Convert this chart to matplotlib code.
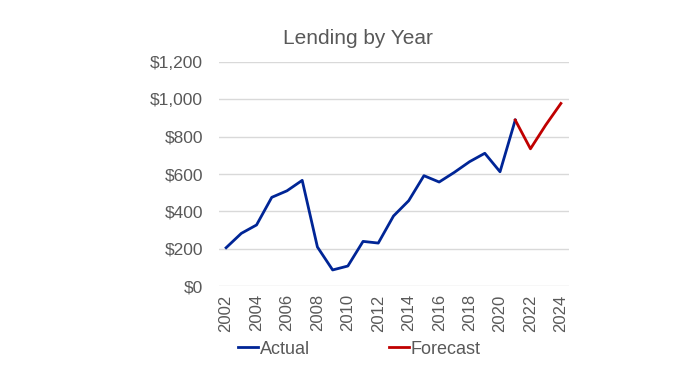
import matplotlib
matplotlib.use('Agg')
import matplotlib.pyplot as plt
from matplotlib.ticker import FuncFormatter

years_actual = list(range(2002, 2022))
lending_actual = [205, 282, 327, 475, 510, 566, 209, 86, 107, 239, 230, 375,
                  457, 591, 557, 609, 666, 711, 612, 889]
years_forecast = [2021, 2022, 2023, 2024]
lending_forecast = [889, 735, 862, 978]

plt.rcParams['font.family'] = ['Liberation Sans', 'DejaVu Sans']
text_c = '#595959'

fig = plt.figure(figsize=(7, 3.79), dpi=100)
ax = fig.add_axes([218.5 / 700, 1 - 286 / 379, 350 / 700, 224 / 379])

ax.plot(years_actual, lending_actual, color='#002596', lw=2.0, label='Actual')
ax.plot(years_forecast, lending_forecast, color='#C00000', lw=2.0, label='Forecast')

ax.set_xlim(2001.5, 2024.5)
ax.set_ylim(0, 1200)
ax.set_yticks(range(0, 1201, 200))
ax.set_xticks(range(2002, 2025, 2))
ax.yaxis.set_major_formatter(FuncFormatter(lambda v, p: f'${v:,.0f}'))
ax.tick_params(axis='x', rotation=90, labelsize=12, colors=text_c, length=0, pad=6)
ax.tick_params(axis='y', labelsize=12.5, colors=text_c, length=0, pad=11)
ax.grid(axis='y', color='#D9D9D9', lw=1)
ax.set_axisbelow(True)
for s in ax.spines.values():
    s.set_visible(False)

fig.text(358 / 700, 1 - 38 / 379, 'Lending by Year', fontsize=15, color=text_c,
         ha='center', va='center')

leg = ax.legend(loc='upper left', bbox_to_anchor=(0.009, -0.172), ncol=2, frameon=False,
                fontsize=13, handlelength=1.1, handletextpad=0.1, columnspacing=4.4)
for t in leg.get_texts():
    t.set_color(text_c)

fig.savefig('out.png', dpi=100)
